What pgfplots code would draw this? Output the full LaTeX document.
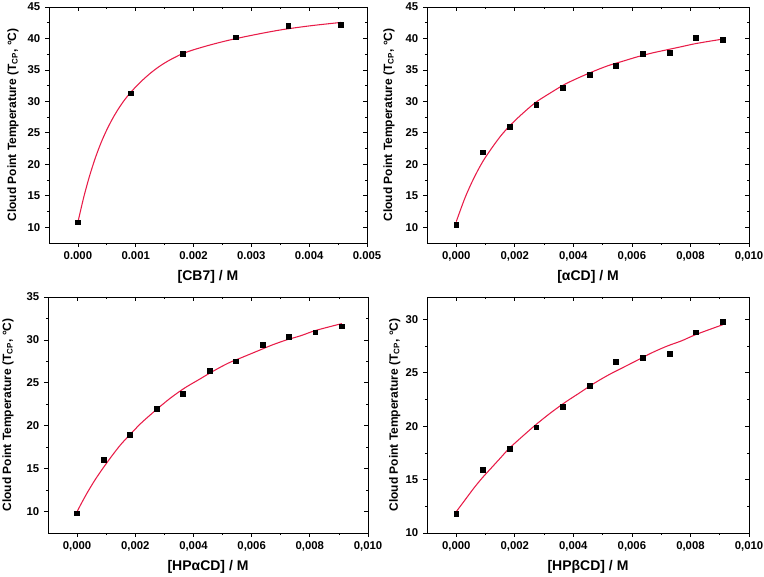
\documentclass[border=0pt]{standalone}
\usepackage{pgfplots}
\pgfplotsset{compat=1.18}
\usepackage{fontspec}
\setmainfont{Liberation Sans}
\definecolor{fitred}{RGB}{232,28,72}
\newcommand\tickfont{\fontsize{8.5}{10}\selectfont\bfseries}
\newcommand\ylabfont{\fontsize{9}{10}\selectfont\bfseries}
\newcommand\xlabfont{\fontsize{10.5}{12}\selectfont\bfseries}
\pgfplotsset{
  base/.style={scale only axis, anchor=south west,
    tick label style={font=\tickfont},
    /pgf/number format/assume math mode=true,
    scaled x ticks=false, scaled y ticks=false,
    minor x tick num=1, minor y tick num=1,
    major tick length=3pt, minor tick length=1.6pt,
    every tick/.style={black, line width=0.6pt},
    axis line style={line width=0.7pt, black},
    every axis x label/.style={at={(axis description cs:0.5,-0.144)}, anchor=center, font=\xlabfont},
  },
  main/.style={base, xtick pos=lower, ytick pos=left, tick align=outside},
  mirror/.style={base, xtick pos=upper, ytick pos=right, tick align=inside,
    xticklabels={}, yticklabels={}},
  xcomma/.style={xticklabel style={/pgf/number format/.cd, fixed, fixed zerofill, precision=3, use comma}},
  xperiod/.style={xticklabel style={/pgf/number format/.cd, fixed, fixed zerofill, precision=3, use period}},
  pts/.style={only marks, mark=square*, mark size=1.8pt, black},
  fit/.style={no marks, fitred, line width=0.8pt, smooth},
}
\newcommand\ylab{Cloud Point Temperature (T\textsubscript{CP}, °C)}

\pgfplotstableread{
x y
0 10.8
0.00091 31.3
0.00182 37.6
0.00273 40.2
0.00364 42.0
0.00455 42.2
}\ptsA
\pgfplotstableread{
x y
0 10.8
0.0001 14.74
0.0002 18.10
0.0003 20.98
0.0004 23.43
0.0005 25.49
0.0006 27.27
0.0007 28.81
0.0008 30.15
0.0009 31.30
0.0010 32.30
0.0011 33.22
0.0012 34.06
0.0013 34.82
0.0014 35.50
0.0015 36.10
0.0016 36.63
0.0017 37.10
0.0018 37.55
0.0020 38.20
0.0023 39.00
0.0026 39.70
0.0029 40.30
0.0032 40.85
0.0035 41.35
0.0038 41.75
0.0041 42.10
0.00455 42.55
}\fitA

\pgfplotstableread{
x y
0 10.4
0.00091 21.9
0.00182 26.0
0.00273 29.4
0.00364 32.2
0.00455 34.2
0.00546 35.6
0.00637 37.6
0.00728 37.7
0.00819 40.1
0.0091 39.8
}\ptsB
\pgfplotstableread{
x y
0 10.9
0.0003 14.7
0.0006 17.8
0.0009 20.4
0.0012 22.5
0.0015 24.4
0.0018 26.0
0.0022 27.8
0.0027 29.8
0.0032 31.3
0.0037 32.7
0.0042 33.8
0.0047 34.8
0.0052 35.7
0.0057 36.4
0.0062 37.1
0.0067 37.7
0.0072 38.2
0.0077 38.7
0.0082 39.2
0.0091 39.9
}\fitB

\pgfplotstableread{
x y
0 9.8
0.00091 16.0
0.00182 18.9
0.00273 22.0
0.00364 23.7
0.00455 26.4
0.00546 27.5
0.00637 29.4
0.00728 30.4
0.00819 30.9
0.0091 31.6
}\ptsC
\pgfplotstableread{
x y
0 10.0
0.0003 11.9
0.0006 13.6
0.0009 15.1
0.0012 16.5
0.0015 17.8
0.0018 18.9
0.0022 20.3
0.0027 21.8
0.0032 23.2
0.0037 24.4
0.0042 25.4
0.0047 26.4
0.0052 27.3
0.0057 28.0
0.0062 28.7
0.0067 29.4
0.0072 30.0
0.0077 30.5
0.0082 31.1
0.0091 31.9
}\fitC

\pgfplotstableread{
x y
0 11.8
0.00091 15.9
0.00182 17.9
0.00273 19.9
0.00364 21.8
0.00455 23.8
0.00546 26.0
0.00637 26.4
0.00728 26.75
0.00819 28.8
0.0091 29.8
}\ptsD
\pgfplotstableread{
x y
0 12.0
0.0003 13.1
0.0006 14.2
0.0009 15.2
0.0012 16.1
0.0015 17.0
0.0018 17.9
0.0022 18.9
0.0027 20.1
0.0032 21.2
0.0037 22.2
0.0042 23.1
0.0047 24.0
0.0052 24.8
0.0057 25.5
0.0062 26.2
0.0067 26.9
0.0072 27.5
0.0077 28.0
0.0082 28.6
0.0091 29.5
}\fitD

\begin{document}
\begin{tikzpicture}
\useasboundingbox (0,0) rectangle (573pt,432.75pt);
% panel A
\begin{axis}[main, xperiod, at={(36.75pt,250.5pt)}, width=238.5pt, height=177pt,
  xmin=-0.0005, xmax=0.005, ymin=7.5, ymax=45,
  xtick={0,0.001,0.002,0.003,0.004,0.005}, ytick={10,15,20,25,30,35,40,45},
  xlabel={[CB7] / M}, ylabel={\ylab},
  every axis y label/.style={at={(axis description cs:-0.113,0.5)}, rotate=90, anchor=center, font=\ylabfont}]
\addplot[fit] table {\fitA};
\addplot[pts] table {\ptsA};
\end{axis}
\begin{axis}[mirror, at={(36.75pt,250.5pt)}, width=238.5pt, height=177pt,
  xmin=-0.0005, xmax=0.005, ymin=7.5, ymax=45,
  xtick={0,0.001,0.002,0.003,0.004,0.005}, ytick={10,15,20,25,30,35,40,45}]
\end{axis}
% panel B
\begin{axis}[main, xcomma, at={(320.25pt,250.5pt)}, width=241.5pt, height=177pt,
  xmin=-0.001, xmax=0.010, ymin=7.5, ymax=45,
  xtick={0,0.002,0.004,0.006,0.008,0.010}, ytick={10,15,20,25,30,35,40,45},
  xlabel={[αCD] / M}, ylabel={\ylab},
  every axis y label/.style={at={(axis description cs:-0.118,0.5)}, rotate=90, anchor=center, font=\ylabfont}]
\addplot[fit] table {\fitB};
\addplot[pts] table {\ptsB};
\end{axis}
\begin{axis}[mirror, at={(320.25pt,250.5pt)}, width=241.5pt, height=177pt,
  xmin=-0.001, xmax=0.010, ymin=7.5, ymax=45,
  xtick={0,0.002,0.004,0.006,0.008,0.010}, ytick={10,15,20,25,30,35,40,45}]
\end{axis}
% panel C
\begin{axis}[main, xcomma, at={(36pt,33pt)}, width=240pt, height=177pt,
  xmin=-0.001, xmax=0.010, ymin=7.5, ymax=35,
  xtick={0,0.002,0.004,0.006,0.008,0.010}, ytick={10,15,20,25,30,35},
  xlabel={[HPαCD] / M}, ylabel={\ylab},
  every axis y label/.style={at={(axis description cs:-0.125,0.5)}, rotate=90, anchor=center, font=\ylabfont}]
\addplot[fit] table {\fitC};
\addplot[pts] table {\ptsC};
\end{axis}
\begin{axis}[mirror, at={(36pt,33pt)}, width=240pt, height=177pt,
  xmin=-0.001, xmax=0.010, ymin=7.5, ymax=35,
  xtick={0,0.002,0.004,0.006,0.008,0.010}, ytick={10,15,20,25,30,35}]
\end{axis}
% panel D
\begin{axis}[main, xcomma, at={(320.25pt,33pt)}, width=241.5pt, height=177pt,
  xmin=-0.001, xmax=0.010, ymin=10, ymax=32.1,
  xtick={0,0.002,0.004,0.006,0.008,0.010}, ytick={10,15,20,25,30},
  xlabel={[HPβCD] / M}, ylabel={\ylab},
  every axis y label/.style={at={(axis description cs:-0.1,0.5)}, rotate=90, anchor=center, font=\ylabfont}]
\addplot[fit] table {\fitD};
\addplot[pts] table {\ptsD};
\end{axis}
\begin{axis}[mirror, at={(320.25pt,33pt)}, width=241.5pt, height=177pt,
  xmin=-0.001, xmax=0.010, ymin=10, ymax=32.1,
  xtick={0,0.002,0.004,0.006,0.008,0.010}, ytick={10,15,20,25,30}]
\end{axis}
\end{tikzpicture}
\end{document}
